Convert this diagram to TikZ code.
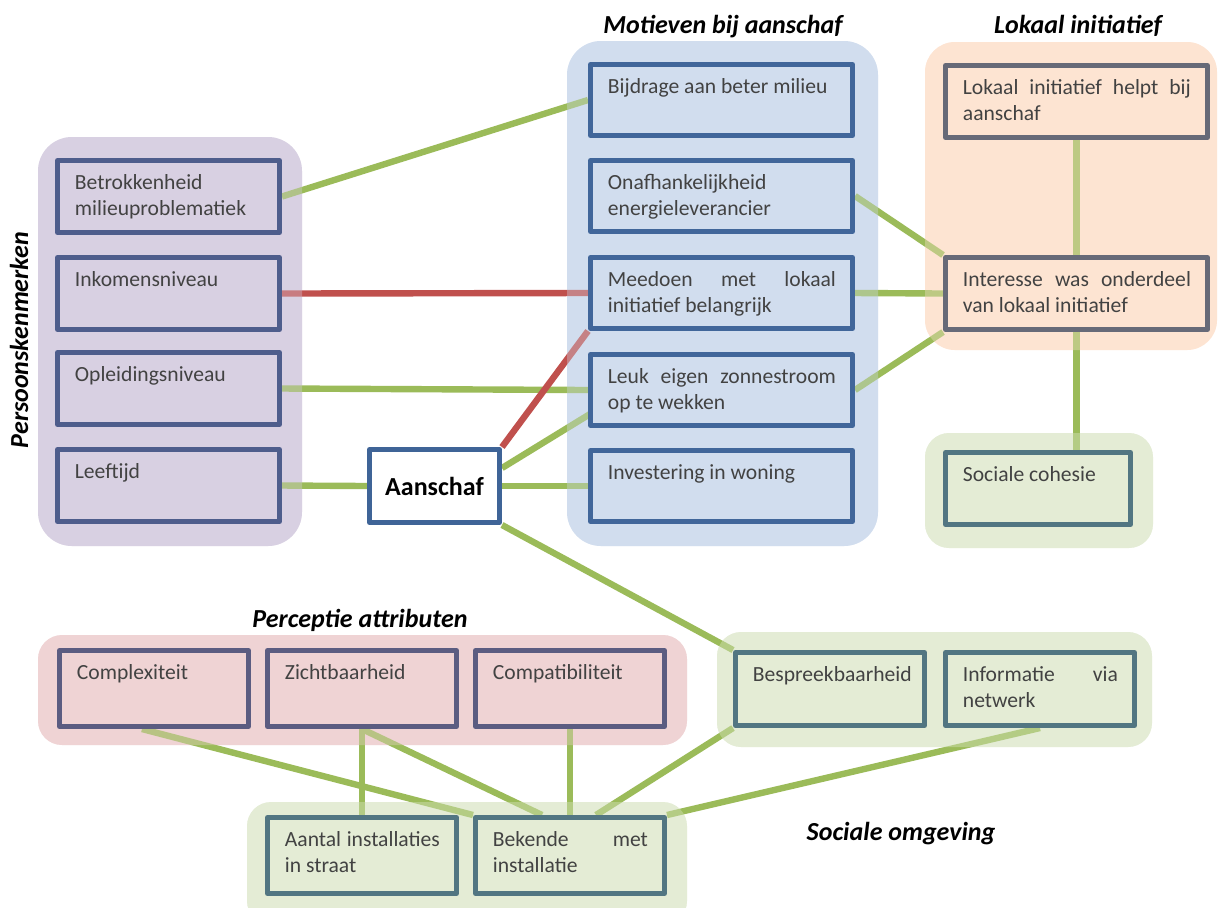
\documentclass[tikz,border=0pt]{standalone}
\usepackage{fontspec}
\setmainfont{Carlito}
\definecolor{paarsvak}{HTML}{D8D0E2}
\definecolor{paarsrand}{HTML}{4E5D8C}
\definecolor{blauwvak}{HTML}{D1DDEE}
\definecolor{blauwrand}{HTML}{41669A}
\definecolor{oranjevak}{HTML}{FDE4D2}
\definecolor{oranjerand}{HTML}{676A78}
\definecolor{groenvak}{HTML}{E4ECD5}
\definecolor{groenrand}{HTML}{527682}
\definecolor{rozevak}{HTML}{EFD3D4}
\definecolor{rozerand}{HTML}{5B5C81}
\definecolor{aanschafrand}{HTML}{3F6497}
\definecolor{lijngroen}{HTML}{9BBB59}
\definecolor{lijnrood}{HTML}{C0504D}
\definecolor{tekstgrijs}{HTML}{424242}
\pgfdeclarelayer{vlak}
\pgfdeclarelayer{lijn}
\pgfdeclarelayer{sluier}
\pgfsetlayers{vlak,lijn,sluier,main}
% groep: kleur, straal, x1, y1, x2, y2
\newcommand\groep[6]{%
  \begin{pgfonlayer}{vlak}\fill[#1,rounded corners=#2] (#3,#4) rectangle (#5,#6);\end{pgfonlayer}
  \begin{pgfonlayer}{sluier}\fill[#1,fill opacity=.35,rounded corners=#2] (#3,#4) rectangle (#5,#6);\end{pgfonlayer}}
\tikzset{
  kader/.style={draw, line width=2.5pt, anchor=north west, inner sep=0pt},
  tekst/.style={anchor=north west, text=tekstgrijs, align=justify, inner xsep=9.75pt, inner ysep=6pt,
    font=\fontsize{10.8}{13.4}\selectfont, execute at begin node=\strut},
  paars/.style={kader, draw=paarsrand, fill=paarsvak, minimum width=111pt, minimum height=36pt,
    label={[tekst, text width=94pt]north west:#1}},
  blauw/.style={kader, draw=blauwrand, fill=blauwvak, minimum width=131pt, minimum height=35.5pt,
    label={[tekst, text width=114pt]north west:#1}},
  oranje/.style={kader, draw=oranjerand, fill=oranjevak, minimum width=131pt, minimum height=36pt,
    label={[tekst, text width=114pt]north west:#1}},
  groen/.style={kader, draw=groenrand, fill=groenvak, minimum width=94.5pt, minimum height=38pt,
    label={[tekst, text width=77.5pt]north west:#1}},
  roze/.style={kader, draw=rozerand, fill=rozevak, minimum width=94.5pt, minimum height=38pt,
    label={[tekst, text width=77.5pt]north west:#1}},
  titel/.style={font=\fontsize{13}{15}\selectfont\bfseries\itshape, inner sep=0pt},
  verband/.style={lijngroen, line width=3.2pt},
  tegen/.style={lijnrood, line width=3.2pt},
}
\hyphenpenalty=10000
\begin{document}
\begin{tikzpicture}[x=0.5pt, y=-0.5pt, line join=round]
\useasboundingbox (0,0) rectangle (1218,907);
% achtergrondvlakken
\groep{paarsvak}{17pt}{38}{137}{302}{546}
\groep{blauwvak}{17pt}{567}{41}{878}{546}
\groep{oranjevak}{15pt}{925}{42}{1217}{350}
\groep{groenvak}{12pt}{925}{433}{1153}{548}
\groep{rozevak}{12pt}{38}{635}{687}{745}
\groep{groenvak}{12pt}{717}{632}{1152}{747}
\groep{groenvak}{12pt}{247}{802}{687}{925}
% titels
\node[titel, anchor=base] (tmotief) at (723,33) {Motieven bij aanschaf};
\node[titel, anchor=base] (tlokaal) at (1078,33) {Lokaal initiatief};
\node[titel, rotate=90] (tpersoon) at (19,340) {Persoonskenmerken};
\node[titel, anchor=base] (tperceptie) at (360,627) {Perceptie attributen};
\node[titel, anchor=base] (tsociaal) at (901,840) {Sociale omgeving};
% persoonskenmerken
\node[paars={Betrokkenheid\\milieuproblematiek}] (betrokken) at (55,158) {};
\node[paars={Inkomensniveau}] (inkomen) at (55,255) {};
\node[paars={Opleidingsniveau}] (opleiding) at (55,350) {};
\node[paars={Leeftijd}] (leeftijd) at (55,447) {};
\node[kader, draw=aanschafrand, fill=white, minimum width=65pt, minimum height=36.5pt,
  font=\fontsize{13}{15}\selectfont\bfseries] (aanschaf) at (367,447) {Aanschaf};
% motieven
\node[blauw={Bijdrage aan beter milieu}] (bijdrage) at (588,62) {};
\node[blauw={Onafhankelijkheid\\energieleverancier}] (onafh) at (588,158) {};
\node[blauw={Meedoen met lokaal\linebreak initiatief belangrijk}] (meedoen) at (588,255) {};
\node[blauw={Leuk eigen zonnestroom\linebreak op te wekken}] (leuk) at (588,352) {};
\node[blauw={Investering in woning}] (investering) at (588,448) {};
% lokaal initiatief
\node[oranje={Lokaal initiatief helpt bij\linebreak aanschaf}] (lokaal) at (943,63) {};
\node[oranje={Interesse was onderdeel\linebreak van lokaal initiatief}] (interesse) at (943,255) {};
\node[groen={Sociale cohesie}, minimum width=92.5pt, minimum height=36pt] (cohesie) at (943,450) {};
% perceptie en omgeving
\node[roze={Complexiteit}] (complex) at (57,648) {};
\node[roze={Zichtbaarheid}] (zicht) at (265,648) {};
\node[roze={Compatibiliteit}] (compat) at (473,648) {};
\node[groen={Bespreekbaarheid}, minimum height=36.5pt] (bespreek) at (733,650) {};
\node[groen={Informatie via\linebreak netwerk}, minimum height=36.5pt] (informatie) at (943,650) {};
\node[groen={Aantal installaties\linebreak in straat}] (aantal) at (265,815) {};
\node[groen={Bekende met\linebreak installatie}] (bekende) at (473,815) {};
% verbanden
\begin{pgfonlayer}{lijn}
\draw[verband] (betrokken.east) -- (bijdrage.west);
\draw[tegen] (inkomen.east) -- (meedoen.west);
\draw[verband] (opleiding.east) -- (leuk.west);
\draw[verband] (leeftijd.east) -- (aanschaf.west);
\draw[verband] (aanschaf.east) -- (investering.west);
\draw[tegen] (aanschaf.north east) -- (meedoen.south west);
\draw[verband] ([yshift=-10.5pt]aanschaf.north east) -- ([shift={(1pt,7pt)}]leuk.south west);
\draw[verband] (aanschaf.south east) -- (bespreek.north west);
\draw[verband] (onafh.east) -- (interesse.north west);
\draw[verband] (meedoen.east) -- (interesse.west);
\draw[verband] (leuk.east) -- (interesse.south west);
\draw[verband] (lokaal.south) -- (interesse.north);
\draw[verband] (interesse.south) -- (interesse.south |- cohesie.north);
\draw[verband] ([xshift=-6pt]complex.south) -- (bekende.north west);
\draw[verband] (zicht.south) -- (zicht.south |- aantal.north);
\draw[verband] (zicht.south) -- ([xshift=-14pt]bekende.north);
\draw[verband] (compat.south) -- (compat.south |- bekende.north);
\draw[verband] (bespreek.south west) -- ([xshift=13pt]bekende.north);
\draw[verband] (informatie.south) -- (bekende.north east);
\end{pgfonlayer}
\end{tikzpicture}
\end{document}
